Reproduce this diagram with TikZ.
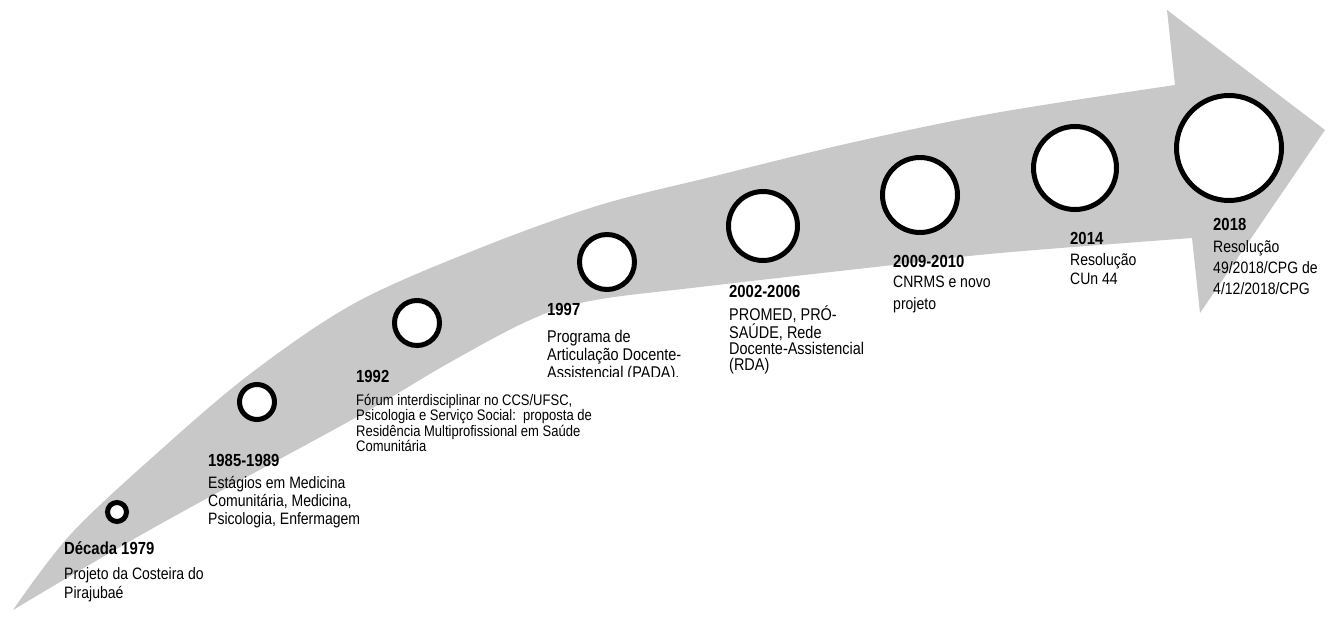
\documentclass[tikz,border=0pt]{standalone}
\usepackage{fontspec}
\setmainfont{Liberation Sans}[FakeStretch=0.85]
\definecolor{arrowgray}{RGB}{200,200,200}
\begin{document}
\begin{tikzpicture}[x=1pt,y=-1pt,
  milestone/.style={circle, draw=black, fill=white, line width=5pt, inner sep=0pt, minimum size=#1},
  yeartitle/.style={anchor=base west, inner sep=0pt, font=\fontsize{17.5}{20}\selectfont\bfseries},
  bodytext/.style={anchor=north west, inner sep=0pt, align=left},
]
\useasboundingbox (0,0) rectangle (1331,617);
% curved arrow
\fill[arrowgray] plot[smooth, tension=0.55] coordinates {(13,610) (70,535) (155,455) (250,374) (355,303) (480,248) (600,205) (715,176) (850,143) (995,113) (1175,85)}
  -- (1167,10) -- (1325,130) -- (1200,313) -- (1192,238)
  -- plot[smooth, tension=0.6] coordinates {(1192,238) (1000,253) (893,265) (700,287) (590,301) (530,320) (447,364) (355,418) (155,527) (13,610)} -- cycle;
% milestones
\node[milestone=19pt]  (c1) at (117,512) {};
\node[milestone=35pt]  (c2) at (257,402) {};
\node[milestone=45pt]  (c3) at (417,323) {};
\node[milestone=55pt]  (c4) at (607,262) {};
\node[milestone=69pt]  (c5) at (763,226) {};
\node[milestone=75pt]  (c6) at (920,195) {};
\node[milestone=83pt]  (c7) at (1075,168) {};
\node[milestone=105pt] (c8) at (1229,148) {};
% labels
\node[yeartitle] (t1) at (64,554) {Década 1979};
\node[bodytext, font=\fontsize{16.5}{19}\selectfont] (b1) at (64,564) {\rule{0pt}{15pt}Projeto da Costeira do\\Pirajubaé};
\node[yeartitle] (t2) at (208,466) {1985-1989};
\node[bodytext, font=\fontsize{16.5}{18}\selectfont] (b2) at (208,473) {\rule{0pt}{15pt}Estágios em Medicina\\Comunitária, Medicina,\\Psicologia, Enfermagem};
\node[yeartitle] (t3) at (356,383) {1992};
\node[bodytext, font=\fontsize{15.3}{15.5}\selectfont] (b3) at (356,390) {\rule{0pt}{15pt}Fórum interdisciplinar no CCS/UFSC,\\Psicologia e Serviço Social:\ \ proposta de\\Residência Multiprofissional em Saúde\\Comunitária};
\node[yeartitle] (t4) at (547,316) {1997};
\begin{scope}
\clip (540,320) rectangle (760,377);
\node[bodytext, font=\fontsize{17}{18}\selectfont] (b4) at (547,327) {\rule{0pt}{15pt}Programa de\\Articulação Docente-\\Assistencial (PADA).};
\end{scope}
\node[yeartitle] (t5) at (729,298) {2002-2006};
\node[bodytext, font=\fontsize{17}{16.2}\selectfont] (b5) at (729,305) {\rule{0pt}{15pt}PROMED, PRÓ-\\SAÚDE, Rede\\Docente-Assistencial\\(RDA)};
\node[yeartitle] (t6) at (893,268) {2009-2010};
\node[bodytext, font=\fontsize{16.5}{22}\selectfont] (b6) at (893,272) {\rule{0pt}{15pt}CNRMS e novo\\projeto};
\node[yeartitle] (t7) at (1070,245) {2014};
\node[bodytext, font=\fontsize{16.5}{19.5}\selectfont] (b7) at (1070,250) {\rule{0pt}{15pt}Resolução\\CUn 44};
\node[yeartitle] (t8) at (1213,231) {2018};
\node[bodytext, font=\fontsize{16.5}{21}\selectfont] (b8) at (1213,237) {\rule{0pt}{15pt}Resolução\\49/2018/CPG de\\4/12/2018/CPG};
\end{tikzpicture}
\end{document}
